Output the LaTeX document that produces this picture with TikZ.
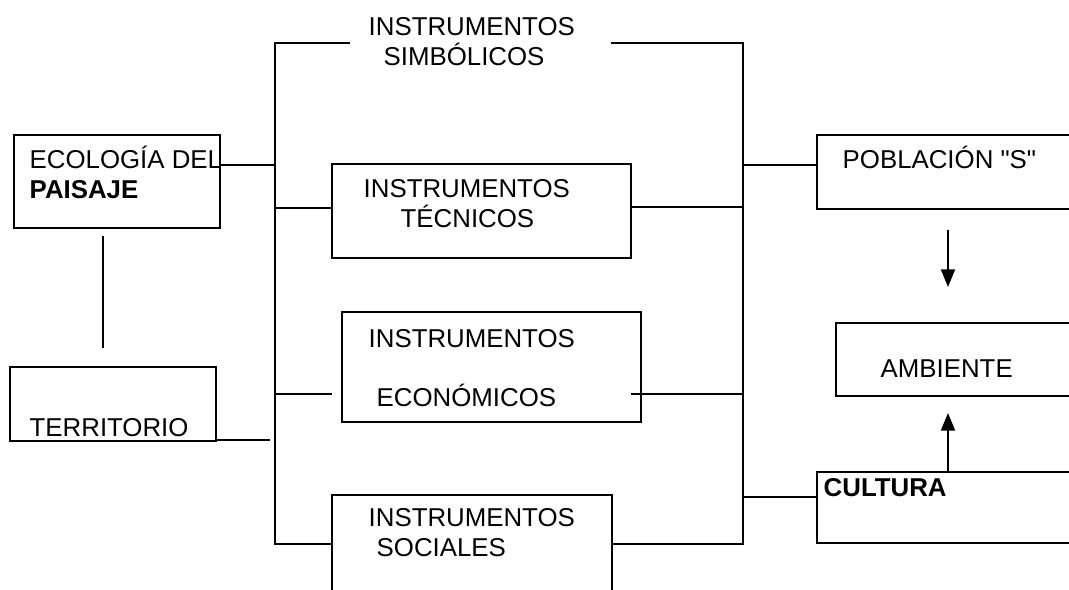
\documentclass[tikz,border=0pt]{standalone}
\usepackage{fontspec}
\setmainfont{Liberation Sans}[Ligatures=TeXOff]
\usetikzlibrary{arrows.meta,positioning}

\begin{document}
\begin{tikzpicture}[
    x=0.02cm,
    y=-0.02cm,
    line width=0.8pt,
    >={Triangle[width=8pt,length=10pt]},
    font=\fontsize{14.7pt}{17pt}\selectfont,
    box/.style={
		rectangle,
		draw=black,
		inner sep=0pt
	},
	txt/.style={
		anchor=base west,
		inner sep=0pt,
		align=left
	}
  ]

\useasboundingbox (0,0) rectangle (1069,589);

% // left column
 \node [box, minimum width=4.12cm, minimum height=1.86cm] (eco) at (117,181.5) {};
 \node [txt] (ecotxt) at (29,198) {ECOLOGÍA DEL\\\textbf{PAISAJE}};
 \node [box, minimum width=4.12cm, minimum height=1.48cm] (terr) at (113,404) {};
 \node [txt] (terrtxt) at (29,436) {TERRITORIO};

% // instruments
 \node [txt] (simb) at (368,65) {INSTRUMENTOS\\\hspace{0.3cm}SIMBÓLICOS};
 \node [box, minimum width=5.98cm, minimum height=1.88cm] (tec) at (481.5,211) {};
 \node [txt] (tectxt) at (363,227) {INSTRUMENTOS\\\hspace{0.74cm}TÉCNICOS};
 \node [box, minimum width=5.98cm, minimum height=2.2cm] (econ) at (491.5,367) {};
 \node [txt] (econtxt) at (368,406) {INSTRUMENTOS\\[16.5pt]\hspace{0.16cm}ECONÓMICOS};
 \node [box, minimum width=5.6cm, minimum height=2.5cm] (soc) at (472,557.5) {};
 \node [txt] (soctxt) at (368,556) {INSTRUMENTOS\\\hspace{0.16cm}SOCIALES};

% // right column
 \node [box, minimum width=5.66cm, minimum height=1.48cm] (pob) at (958.5,172) {};
 \node [txt] (pobtxt) at (842,168) {POBLACIÓN "S"};
 \node [box, minimum width=5.28cm, minimum height=1.46cm] (amb) at (968,359.5) {};
 \node [txt] (ambtxt) at (880,377) {AMBIENTE};
 \node [box, minimum width=5.66cm, minimum height=1.42cm] (cul) at (958.5,507.5) {};
 \node [txt] (cultxt) at (823,496) {\textbf{CULTURA}};

% // bus points
 \coordinate (lt) at (275,43);
 \coordinate (lb) at (275,544);
 \coordinate (rt) at (743,43);
 \coordinate (rb) at (743,544);
 \coordinate (sl) at (350,43);
 \coordinate (sr) at (611,43);

% // left bus
 \draw (sl) -- (lt) -- (lb) -- (soc.west |- lb);
 \draw (eco.east |- 0,165) -- (lt |- 0,165);
 \draw (lt |- 0,208) -- (tec.west |- 0,208);
 \draw (lt |- 0,394) -- (332,394);
 \draw (terr.east |- 0,440) -- (270,440);
 \draw (103,236) -- (103,348);

% // right bus
 \draw (sr) -- (rt) -- (rb) -- (soc.east |- rb);
 \draw (tec.east |- 0,207) -- (rt |- 0,207);
 \draw (631,394) -- (rt |- 0,394);
 \draw (rt |- 0,165) -- (pob.west |- 0,165);
 \draw (rt |- 0,497) -- (cul.west |- 0,497);

% // arrows
 \draw [->] (948,230) -- (948,287);
 \draw [->] (cul.north -| 948,0) -- (948,413);

\end{tikzpicture}
\end{document}
